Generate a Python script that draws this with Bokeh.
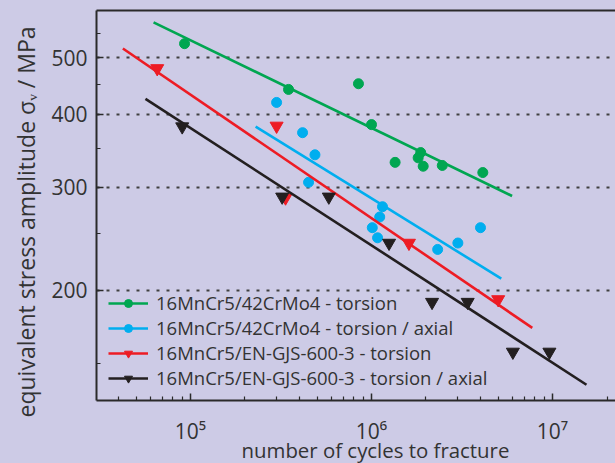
from bokeh.plotting import figure
from bokeh.models import FixedTicker, LogAxis, Legend, LegendItem, Title, Range1d
from bokeh.embed import file_html
from bokeh.resources import INLINE

# ---------------- data ----------------
green_n = [9.27e4, 3.48e5, 8.47e5, 1.0e6, 1.35e6, 1.87e6, 1.81e6, 1.93e6, 2.46e6, 4.12e6]
green_s = [528, 441, 451, 384, 331, 344, 337, 326, 327, 318]
green_fit_n = [6.25e4, 5.98e6]
green_fit_s = [574, 290]

blue_n = [2.99e5, 4.16e5, 4.87e5, 4.49e5, 1.15e6, 1.11e6, 1.01e6, 1.08e6, 2.32e6, 3.0e6, 4.0e6]
blue_s = [419, 372, 341, 306, 278, 267, 256, 246, 235, 241, 256]
blue_fit_n = [2.29e5, 5.21e6]
blue_fit_s = [381, 209.5]

red_n = [6.55e4, 2.99e5, 3.35e5, 1.61e6, 5.01e6]
red_s = [479, 382, 288, 241, 193]
red_fit_n = [4.23e4, 7.73e6]
red_fit_s = [518, 172.6]

black_n = [9.0e4, 3.21e5, 5.81e5, 1.25e6, 2.16e6, 3.40e6, 6.04e6, 9.61e6]
black_s = [381, 289, 289, 241, 191, 191, 157, 157]
black_fit_n = [5.64e4, 1.54e7]
black_fit_s = [425, 138]

series_labels = [
    "16MnCr5/42CrMo4 - torsion",
    "16MnCr5/42CrMo4 - torsion / axial",
    "16MnCr5/EN-GJS-600-3 - torsion",
    "16MnCr5/EN-GJS-600-3 - torsion / axial",
]

x_major = [1e5, 1e6, 1e7]
x_major_labels = ["10\u2075", "10\u2076", "10\u2077"]
x_minor = [m * 10 ** e for e in (4, 5, 6, 7) for m in range(2, 10)]
y_major = [200, 300, 400, 500]
y_minor = [150, 250, 350, 450, 550]

x_title = "number of cycles to fracture"
y_title = "equivalent stress amplitude \u03c3\u1d65 / MPa"

# ---------------- styling ----------------
FONT = "Open Sans"
BG = "#cdcbe6"
TXT = "#333333"
AX = "#2a2a2a"
GREEN = "#00a651"
BLUE = "#00aeef"
RED = "#ed1c24"
BLACK = "#231f20"

p = figure(width=615, height=463, x_axis_type="log", y_axis_type="log",
           x_range=Range1d(3.025e4, 2.228e7), y_range=Range1d(129.7, 601.6),
           output_backend="svg", toolbar_location=None,
           background_fill_color=BG, border_fill_color=BG,
           min_border_left=96, min_border_right=0, min_border_top=10,
           min_border_bottom=63)
p.outline_line_color = None

# x axis
xa = p.xaxis[0]
xa.ticker = FixedTicker(ticks=x_major, minor_ticks=x_minor)
xa.major_label_overrides = {t: l for t, l in zip(x_major, x_major_labels)}
xa.major_tick_in = 7
xa.major_tick_out = 0
xa.minor_tick_in = 4
xa.minor_tick_out = 0
xa.major_label_standoff = 16
xa.major_label_text_font = FONT
xa.major_label_text_font_size = "21px"
xa.major_label_text_color = TXT
xa.axis_line_color = AX
xa.axis_line_width = 2
xa.major_tick_line_color = AX
xa.minor_tick_line_color = AX
xa.major_tick_line_width = 1.5
xa.minor_tick_line_width = 1.2

# y axis
ya = p.yaxis[0]
ya.ticker = FixedTicker(ticks=y_major, minor_ticks=y_minor)
ya.major_label_overrides = {t: str(t) for t in y_major}
ya.major_tick_in = 7
ya.major_tick_out = 0
ya.minor_tick_in = 4
ya.minor_tick_out = 0
ya.major_label_standoff = 9
ya.major_label_text_font = FONT
ya.major_label_text_font_size = "21px"
ya.major_label_text_color = TXT
ya.axis_line_color = AX
ya.axis_line_width = 2
ya.major_tick_line_color = AX
ya.minor_tick_line_color = AX
ya.major_tick_line_width = 1.5
ya.minor_tick_line_width = 1.2

# top border line as a bare axis
top = LogAxis(ticker=FixedTicker(ticks=[]), major_label_standoff=0,
              axis_label_standoff=0, major_tick_in=0, major_tick_out=0,
              minor_tick_in=0, minor_tick_out=0,
              axis_line_color=AX, axis_line_width=2)
p.add_layout(top, "above")

# grid
p.xgrid.visible = False
p.ygrid.ticker = FixedTicker(ticks=y_major)
p.ygrid.grid_line_color = "#404040"
p.ygrid.grid_line_width = 2
p.ygrid.grid_line_dash = "3 7"

# ---------------- series ----------------
items = []
specs = [
    (green_n, green_s, green_fit_n, green_fit_s, GREEN, "circle", 10),
    (blue_n, blue_s, blue_fit_n, blue_fit_s, BLUE, "circle", 10),
    (red_n, red_s, red_fit_n, red_fit_s, RED, "inverted_triangle", 13),
    (black_n, black_s, black_fit_n, black_fit_s, BLACK, "inverted_triangle", 13),
]
for (xn, ys, fn, fs, col, mk, sz), lab in zip(specs, series_labels):
    lr = p.line(fn, fs, line_color=col, line_width=2.6)
    sr = p.scatter(xn, ys, marker=mk, size=sz, fill_color=col, line_color=col)
    items.append(LegendItem(label=lab, renderers=[lr, sr]))

legend = Legend(items=items, location=(12, 10), padding=0, margin=0,
                spacing=-4, glyph_width=40, glyph_height=20, label_height=20,
                label_standoff=8, label_text_font=FONT,
                label_text_font_size="18.5px", label_text_color=TXT,
                border_line_color=None, background_fill_alpha=0)
p.add_layout(legend)

# ---------------- axis titles ----------------
p.add_layout(Title(text=x_title, align="left", offset=145, standoff=-24,
                   vertical_align="top",
                   text_font=FONT, text_font_size="20.4px",
                   text_font_style="normal", text_color=TXT), "below")
p.add_layout(Title(text=y_title, align="left", offset=-17, standoff=14,
                   text_font=FONT, text_font_size="23px",
                   text_font_style="normal", text_color=TXT), "left")

html = file_html(p, INLINE)
html = html.replace("<head>", "<head><style>html,body{background:%s;overflow:hidden;}</style>" % BG, 1)
open("out.html", "w").write(html)
